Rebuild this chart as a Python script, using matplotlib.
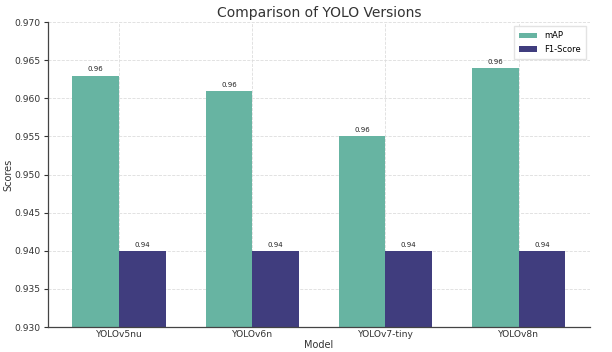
import numpy as np
import matplotlib
matplotlib.use("Agg")
import matplotlib.pyplot as plt

models = ["YOLOv5nu", "YOLOv6n", "YOLOv7-tiny", "YOLOv8n"]
map_vals = [0.963, 0.961, 0.955, 0.964]
f1_vals = [0.940, 0.940, 0.940, 0.940]
yticks = [0.930, 0.935, 0.940, 0.945, 0.950, 0.955, 0.960, 0.965, 0.970]

x = np.arange(len(models))
w = 0.35

fig = plt.figure(figsize=(6.12, 3.52), dpi=100)
ax = fig.add_axes([0.078, 0.071, 0.886, 0.866])

b1 = ax.bar(x - w/2, map_vals, w, color="#67b4a2", label="mAP", zorder=2)
b2 = ax.bar(x + w/2, f1_vals, w, color="#403d7e", label="F1-Score", zorder=2)

for bars in (b1, b2):
    for b in bars:
        h = b.get_height()
        ax.text(b.get_x() + b.get_width()/2, h + 0.0004, f"{h + 1e-9:.2f}",
                ha="center", va="bottom", fontsize=5, color="#222222")

ax.set_ylim(0.930, 0.970)
ax.set_yticks(yticks)
ax.set_yticklabels([f"{v:.3f}" for v in yticks])
ax.set_xticks(x)
ax.set_xticklabels(models)
ax.tick_params(labelsize=6.6, colors="#333333", length=3, width=0.8, pad=2)
ax.tick_params(axis="x", length=0, pad=2)

ax.set_title("Comparison of YOLO Versions", fontsize=10, color="#333333", pad=4)
ax.set_xlabel("Model", fontsize=7, color="#333333", labelpad=1)
ax.set_ylabel("Scores", fontsize=7, color="#333333")
ax.yaxis.set_label_coords(-0.064, 0.5)

ax.grid(True, linestyle="--", color="#dddddd", linewidth=0.6, zorder=0)
ax.set_axisbelow(True)
for s in ("top", "right"):
    ax.spines[s].set_visible(False)
for s in ("left", "bottom"):
    ax.spines[s].set_color("#444444")
    ax.spines[s].set_linewidth(0.9)

ax.legend(loc="upper right", fontsize=6, frameon=True, edgecolor="#dddddd",
          fancybox=False, handlelength=2.2, borderpad=0.6)

fig.savefig("out.png", dpi=100)
